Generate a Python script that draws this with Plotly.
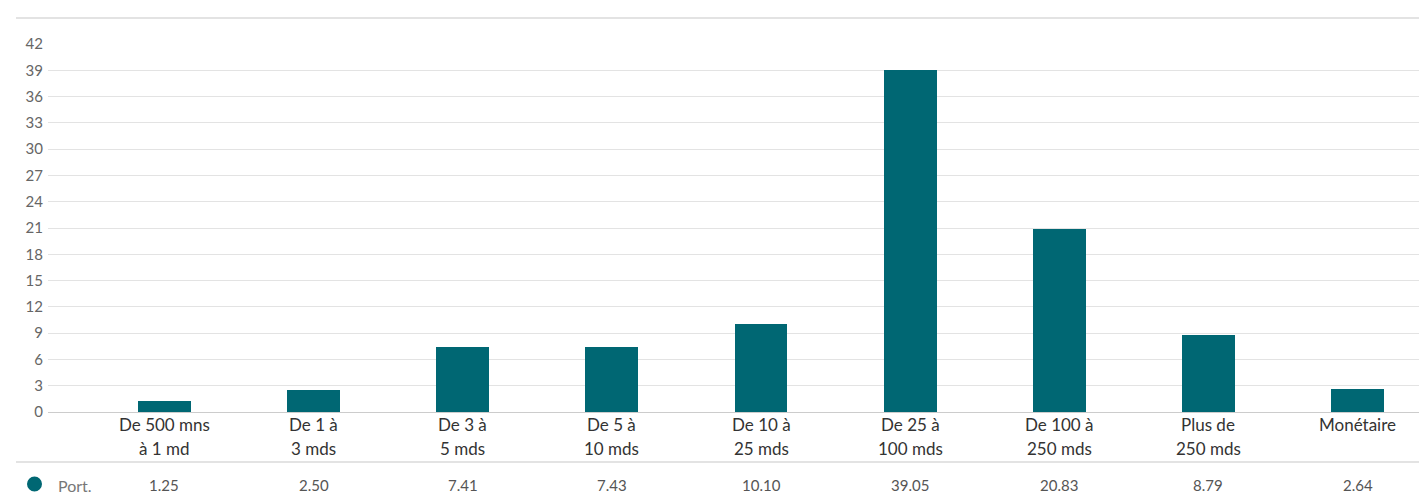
import plotly.graph_objects as go

# Fund size buckets and portfolio weights (%)
categories = [
    "De 500 mns<br>à 1 md",
    "De 1 à<br>3 mds",
    "De 3 à<br>5 mds",
    "De 5 à<br>10 mds",
    "De 10 à<br>25 mds",
    "De 25 à<br>100 mds",
    "De 100 à<br>250 mds",
    "Plus de<br>250 mds",
    "Monétaire",
]
portfolio = [1.25, 2.50, 7.41, 7.43, 10.10, 39.05, 20.83, 8.79, 2.64]
series_name = "Port."
y_ticks = list(range(0, 43, 3))

W, H = 1419, 497
BAR_COLOR = "#006773"
GRID = "#e3e3e3"
FONT = "Lato, 'Source Sans Pro', sans-serif"

x_idx = list(range(len(categories)))

fig = go.Figure()
fig.add_trace(go.Bar(
    x=x_idx, y=portfolio, width=0.355,
    marker=dict(color=BAR_COLOR, line=dict(width=0)),
    name=series_name, showlegend=False, hoverinfo="y",
))

plot_top, plot_bottom, plot_left = 44, 412, 48
fig.update_layout(
    width=W, height=H,
    margin=dict(l=plot_left, r=0, t=plot_top, b=H - plot_bottom, pad=0),
    paper_bgcolor="white", plot_bgcolor="white",
    font=dict(family=FONT, color="#333"),
    bargap=0,
    xaxis=dict(range=[-0.781, 8.412], showticklabels=False, showgrid=False,
               zeroline=False, showline=False, ticks="", fixedrange=True),
    yaxis=dict(range=[0, 42], tickvals=y_ticks, ticktext=[str(v) for v in y_ticks],
               showgrid=True, gridcolor=GRID, gridwidth=1, zeroline=True,
               zerolinecolor="#cccccc", zerolinewidth=1, showline=False,
               ticks="", ticklabelstandoff=4,
               tickfont=dict(family=FONT, size=15, color="#666"), fixedrange=True),
)

plot_h = plot_bottom - plot_top


def py(px):
    """Convert a pixel row to paper y."""
    return (plot_bottom - px) / plot_h


def pxx(px):
    """Convert a pixel column to paper x."""
    return (px - plot_left) / (W - plot_left)


# Horizontal frame lines: top border and separator above the data row
for row in (18, 462):
    fig.add_shape(type="line", xref="paper", yref="paper",
                  x0=pxx(16), x1=1, y0=py(row), y1=py(row),
                  line=dict(color="#e3e3e3", width=2))

# Category labels below the bars
for i, cat in enumerate(categories):
    for j, line in enumerate(cat.split("<br>")):
        fig.add_annotation(x=i, xref="x", y=py(424 + 24 * j), yref="paper",
                           text=line, showarrow=False, xanchor="center", yanchor="middle",
                           font=dict(family=FONT, size=17, color="#333"))

# Data row: legend dot, series name and values
fig.add_shape(type="circle", xref="paper", yref="paper",
              x0=pxx(27), x1=pxx(42), y0=py(476.5), y1=py(491.5),
              fillcolor=BAR_COLOR, line=dict(width=0))
fig.add_annotation(x=pxx(56), xref="paper", y=py(485), yref="paper",
                   text=series_name, showarrow=False, xanchor="left", yanchor="middle",
                   font=dict(family=FONT, size=16, color="#777"))
for i, v in enumerate(portfolio):
    fig.add_annotation(x=i, xref="x", y=py(485), yref="paper",
                       text=f"{v:.2f}", showarrow=False, xanchor="center", yanchor="middle",
                       font=dict(family=FONT, size=15, color="#555"))

fig.write_html("out.html", config={"displayModeBar": False})
